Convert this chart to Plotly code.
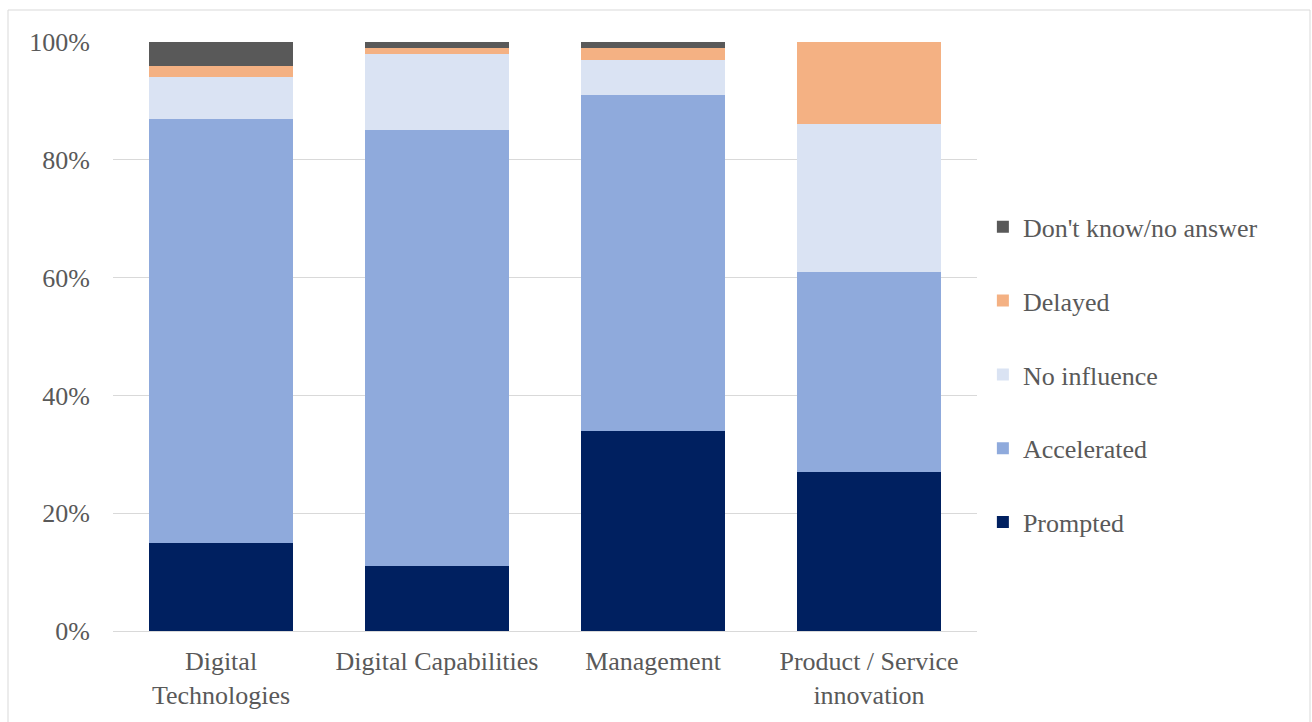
import plotly.graph_objects as go

categories = ["Digital<br>Technologies", "Digital Capabilities", "Management", "Product / Service<br>innovation"]
prompted = [15, 11, 34, 27]
accelerated = [72, 74, 57, 34]
no_influence = [7, 13, 6, 25]
delayed = [2, 1, 2, 14]
dont_know = [4, 1, 1, 0]

series = [
    ("Prompted", prompted, "#002060"),
    ("Accelerated", accelerated, "#8FAADC"),
    ("No influence", no_influence, "#DAE3F3"),
    ("Delayed", delayed, "#F4B183"),
    ("Don't know/no answer", dont_know, "#595959"),
]

fig = go.Figure()
for i, (name, vals, color) in enumerate(series):
    fig.add_trace(go.Bar(
        x=categories, y=vals, name=name, marker_color=color,
        marker_line_width=0, legendgroup=name, legendrank=len(series) - i,
    ))

font = "Liberation Serif, Times New Roman, serif"
fs = 26
fig.update_layout(
    width=1312, height=722,
    barmode="stack", bargap=1/3,
    margin=dict(l=113, r=335, t=42, b=91),
    plot_bgcolor="white", paper_bgcolor="white",
    font=dict(family=font, size=fs, color="#595959"),
    legend=dict(
        x=1.0068, y=0.726, xanchor="left", yanchor="top",
        traceorder="grouped", tracegroupgap=37,
        font=dict(family=font, size=fs, color="#595959"),
        itemwidth=30,
    ),
    xaxis=dict(showgrid=False, showline=True, linecolor="#D9D9D9", linewidth=1,
               ticks="", tickfont=dict(size=fs), ticklabelstandoff=7),
    yaxis=dict(range=[0, 100], tickvals=[0, 20, 40, 60, 80, 100],
               ticktext=["0%", "20%", "40%", "60%", "80%", "100%"],
               showgrid=True, gridcolor="#D9D9D9", zeroline=False,
               ticks="", ticklabelstandoff=22, tickfont=dict(size=fs)),
    shapes=[dict(type="rect", xref="paper", yref="paper",
                 x0=(8 - 113) / 864, x1=(1310 - 113) / 864,
                 y0=-0.2, y1=1 + (42 - 10) / 589,
                 line=dict(color="#D9D9D9", width=1), layer="below")],
)

fig.write_html("out.html")
